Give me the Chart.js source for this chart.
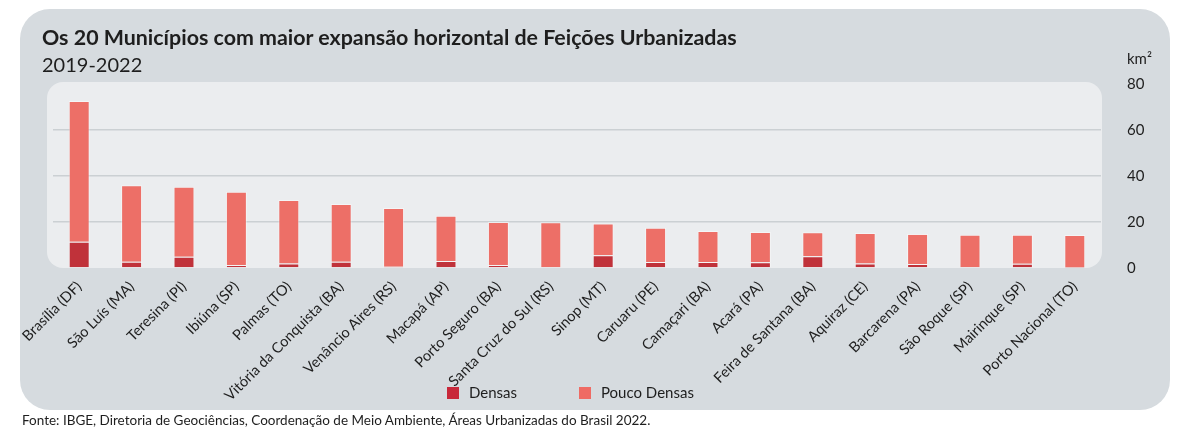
<!DOCTYPE HTML>
<html>
<head>
    <meta charset="utf-8">
    <title>Feições Urbanizadas</title>
    <script src="https://cdn.jsdelivr.net/npm/chart.js@4.4.0/dist/chart.umd.min.js"></script>
<style>
    body { margin: 0; background: #fff; font-family: Lato, "Noto Sans", sans-serif; color: #1e1e1e; }
    #wrap { position: relative; width: 1200px; height: 433px; overflow: hidden; }
    #panel { position: absolute; left: 20px; top: 9px; width: 1150px; height: 401px; background: #d6dbdf; border-radius: 30px; }
    #chart { position: absolute; left: 0; top: 0; }
    .title { position: absolute; left: 42px; top: 24px; font-size: 21.4px; font-weight: bold; }
    .subtitle { position: absolute; left: 42px; top: 52px; font-size: 20px; }
    .unit { position: absolute; left: 1127px; top: 49px; font-size: 15px; }
    .source { position: absolute; left: 22px; top: 412px; font-size: 13.5px; }
    #legend { position: absolute; left: 447px; top: 383px; font-size: 15px; }
    #legend span.item { position: absolute; white-space: nowrap; }
    #legend i { display: inline-block; width: 12px; height: 12px; vertical-align: -1px; margin-right: 10px; }
</style>
</head>
<body>
<div id="wrap">
    <div id="panel"></div>
    <canvas id="chart" width="1200" height="433"></canvas>
    <div class="title">Os 20 Municípios com maior expansão horizontal de Feições Urbanizadas</div>
    <div class="subtitle">2019-2022</div>
    <div class="unit">km²</div>
    <div id="legend"></div>
    <div class="source">Fonte: IBGE, Diretoria de Geociências, Coordenação de Meio Ambiente, Áreas Urbanizadas do Brasil 2022.</div>
</div>
<script>
    // municípios, ordenados pela expansão total (km²)
    var municipios = ["Brasília (DF)", "São Luís (MA)", "Teresina (PI)", "Ibiúna (SP)", "Palmas (TO)",
        "Vitória da Conquista (BA)", "Venâncio Aires (RS)", "Macapá (AP)", "Porto Seguro (BA)",
        "Santa Cruz do Sul (RS)", "Sinop (MT)", "Caruaru (PE)", "Camaçari (BA)", "Acará (PA)",
        "Feira de Santana (BA)", "Aquiraz (CE)", "Barcarena (PA)", "São Roque (SP)",
        "Mairinque (SP)", "Porto Nacional (TO)"];
    var densas = [11.4, 2.7, 4.9, 1.3, 2.0, 2.7, 0.5, 3.0, 1.3, 0.3,
        5.5, 2.6, 2.6, 2.5, 5.1, 2.0, 1.7, 0.3, 1.9, 0.2];
    var poucoDensas = [61.2, 33.3, 30.4, 31.9, 27.6, 25.1, 25.6, 19.7, 18.7, 19.6,
        13.9, 14.9, 13.5, 13.2, 10.4, 13.2, 13.1, 14.2, 12.6, 14.1];
    var yTicks = [0, 20, 40, 60, 80];

    var corDensas = "#c0323a";
    var corPouco = "#ed6f67";

    var fonte = "Lato, 'Noto Sans', sans-serif";

    // fundo claro da área do gráfico
    var painel = {
        id: "painel",
        beforeDraw: function(chart) {
            var a = chart.chartArea, ctx = chart.ctx;
            ctx.save();
            ctx.fillStyle = "#ebedef";
            ctx.beginPath();
            ctx.roundRect(a.left - 6, a.top - 2, a.right - a.left + 7, a.bottom - a.top + 2, 16);
            ctx.fill();
            ctx.restore();
        }
    };

    var dados = {
        labels: municipios,
        datasets: [{
            label: "Densas",
            data: densas,
            backgroundColor: corDensas,
            legendColor: "#c8283a",
            borderColor: "rgba(255,255,255,0.45)",
            borderWidth: 1
        }, {
            label: "Pouco Densas",
            data: poucoDensas,
            backgroundColor: corPouco,
            legendColor: "#ef6b64",
            borderColor: "rgba(255,255,255,0.45)",
            borderWidth: 1
        }]
    };

    var grafico = new Chart(document.getElementById("chart"), {
        type: "bar",
        data: dados,
        plugins: [painel],
        options: {
            responsive: false,
            animation: false,
            layout: { padding: { left: 53, top: 84, right: 54, bottom: 0 } },
            plugins: {
                legend: { display: false },
                tooltip: { enabled: false }
            },
            datasets: { bar: { barPercentage: 0.4, categoryPercentage: 1.0 } },
            scales: {
                x: {
                    stacked: true,
                    grid: { display: false },
                    border: { display: false },
                    afterFit: function(s) { s.height = 165; },
                    ticks: {
                        autoSkip: false,
                        maxRotation: 45,
                        minRotation: 45,
                        padding: 2,
                        color: "#1e1e1e",
                        font: { family: fonte, size: 14.6 }
                    }
                },
                y: {
                    stacked: true,
                    position: "right",
                    min: 0,
                    max: 80,
                    afterFit: function(s) { s.width = 45; },
                    afterBuildTicks: function(s) {
                        s.ticks = yTicks.map(function(v) { return { value: v }; });
                    },
                    border: { display: false },
                    grid: {
                        drawTicks: false,
                        lineWidth: 1.5,
                        color: function(c) {
                            return (c.tick && (c.tick.value === 0 || c.tick.value === 80)) ? "rgba(0,0,0,0)" : "#cbd0d3";
                        }
                    },
                    ticks: {
                        padding: 26,
                        color: "#1e1e1e",
                        font: { family: fonte, size: 15 }
                    }
                }
            }
        }
    });

    // legenda em HTML a partir dos datasets
    var leg = document.getElementById("legend");
    var posicoes = [0, 132];
    grafico.data.datasets.forEach(function(ds, i) {
        var el = document.createElement("span");
        el.className = "item";
        el.style.left = posicoes[i] + "px";
        el.innerHTML = '<i style="background:' + ds.legendColor + '"></i>' + ds.label;
        leg.appendChild(el);
    });
</script>
</body>
</html>
